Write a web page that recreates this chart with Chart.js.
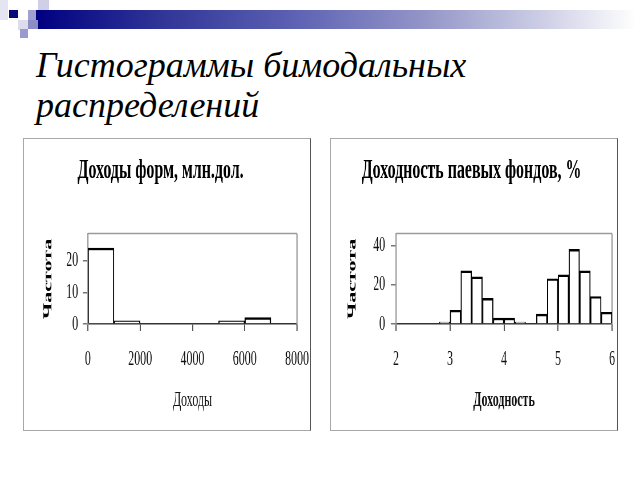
<!DOCTYPE html>
<html><head><meta charset="utf-8">
<script src="https://cdn.jsdelivr.net/npm/chart.js@4/dist/chart.umd.min.js"></script>
<style>
html,body{margin:0;padding:0;background:#fff}
body{width:640px;height:480px;position:relative;overflow:hidden}
.sq{position:absolute}
#band{position:absolute;left:36px;top:10px;width:600px;height:19px;
 background:linear-gradient(to right,#000080 0%,#2e3396 20%,#5a5fb2 42%,#9496c8 65%,#cfd0e6 85%,#ffffff 100%)}
#slideTitle{position:absolute;left:36px;top:45px;margin:0;font:italic 36px/40px "Liberation Serif",serif;color:#000;font-weight:normal}
.box{position:absolute;top:138px;width:286px;height:291px;border:1px solid #a8a8a8;border-right:1px solid #555;overflow:hidden;background:#fff}
.wrap{position:absolute;left:0;top:0;transform:scaleX(0.57);transform-origin:0 0}
</style></head>
<body>
<div class="sq" style="left:0;top:0;width:8px;height:20px;background:#e4e4f2"></div>
<div class="sq" style="left:38px;top:0;width:11px;height:10px;background:#cfcfe8"></div>
<div class="sq" style="left:9px;top:10px;width:9px;height:8px;background:#0a0a7a"></div>
<div class="sq" style="left:28px;top:10px;width:10px;height:10px;background:#a0a0d0"></div>
<div id="band"></div>
<div class="sq" style="left:18px;top:20px;width:10px;height:10px;background:#dcdcee"></div>
<div class="sq" style="left:28px;top:20px;width:10px;height:9px;background:#8c8cc6"></div>
<div class="sq" style="left:20px;top:29px;width:8px;height:9px;background:#9a9ace"></div>
<h1 id="slideTitle">Гистограммы бимодальных<br>распределений</h1>

<div class="box" style="left:23px"><div class="wrap"><canvas id="c1" width="502" height="291"></canvas></div></div>
<div class="box" style="left:330px"><div class="wrap"><canvas id="c2" width="502" height="291"></canvas></div></div>

<script>
// ---- data ----
const incomeEdges = [0, 1000, 2000, 3000, 4000, 5000, 6000, 7000, 8000];
const incomeFreq  = [24, 1, 0, 0, 0, 1, 2, 0];
const incomeXTicks = [0, 2000, 4000, 6000, 8000];
const incomeYTicks = [0, 10, 20];
const incomeTitle = 'Доходы форм, млн.дол.';
const incomeXTitle = 'Доходы';

const yieldEdges = [2.8, 3.0, 3.2, 3.4, 3.6, 3.8, 4.0, 4.2, 4.4, 4.6, 4.8, 5.0, 5.2, 5.4, 5.6, 5.8, 6.0];
const yieldFreq  = [1, 7, 27, 24, 13, 3, 3, 1, 0, 5, 23, 25, 38, 27, 14, 6];
const yieldXTicks = [2, 3, 4, 5, 6];
const yieldYTicks = [0, 20, 40];
const yieldTitle = 'Доходность паевых фондов, %';
const yieldXTitle = 'Доходность';

const yTitle = 'Частота';

const SERIF = '"Liberation Serif", "Times New Roman", serif';

const frame = {
  id: 'frame',
  beforeDatasetsDraw(chart) {
    const a = chart.chartArea, ctx = chart.ctx;
    ctx.save();
    ctx.strokeStyle = '#9a9a9a';
    ctx.lineWidth = 1.5;
    ctx.beginPath(); ctx.moveTo(a.left, a.top); ctx.lineTo(a.right, a.top); ctx.stroke();
    ctx.lineWidth = 2.2;
    ctx.beginPath(); ctx.moveTo(a.right, a.top); ctx.lineTo(a.right, a.bottom); ctx.stroke();
    ctx.restore();
  }
};

function makeHist(id, edges, freq, xTicks, yTicks, opts) {
  const points = freq.map((f, i) => ({ x: (edges[i] + edges[i + 1]) / 2, y: f }));
  new Chart(document.getElementById(id), {
    type: 'bar',
    data: { datasets: [{
      data: points,
      backgroundColor: '#ffffff',
      borderColor: '#000000',
      borderWidth: { top: 2.4, left: 2, right: 2, bottom: 0 },
      borderSkipped: 'start',
      barPercentage: 1,
      categoryPercentage: 1
    }]},
    options: {
      responsive: false,
      animation: false,
      devicePixelRatio: 1,
      layout: { padding: { left: 0, right: opts.padRight, top: 0, bottom: 0 } },
      plugins: {
        legend: { display: false },
        tooltip: { enabled: false },
        title: {
          display: true, text: opts.title, color: '#000',
          font: { family: SERIF, size: 28, weight: 'bold', lineHeight: 1.2 },
          padding: { top: 15, bottom: 46 }
        }
      },
      scales: {
        x: {
          type: 'linear', min: xTicks[0], max: xTicks[xTicks.length - 1],
          offset: false,
          afterBuildTicks: s => { s.ticks = xTicks.map(v => ({ value: v })); },
          afterFit: s => { s.height = 106; s.paddingLeft = 0; s.paddingRight = 0; },
          grid: { display: true, drawOnChartArea: false, drawTicks: true, tickLength: 7,
                  color: '#555', lineWidth: 2, offset: false },
          border: { display: true, color: '#333', width: 1.6 },
          ticks: { color: '#111', padding: 16, maxRotation: 0, autoSkip: false,
                   callback: v => String(v),
                   font: { family: SERIF, size: 21 } },
          title: { display: true, text: opts.xTitle, color: '#111',
                   font: { family: SERIF, size: 21, weight: opts.xTitleWeight, lineHeight: 1.2 },
                   padding: { top: 0, bottom: 17 } }
        },
        y: {
          min: 0, max: opts.yMax,
          afterBuildTicks: s => { s.ticks = yTicks.map(v => ({ value: v })); },
          afterFit: s => { s.width = opts.plotLeft; },
          grid: { display: true, drawOnChartArea: false, drawTicks: true, tickLength: 9,
                  color: '#777', lineWidth: 1.5 },
          border: { display: true, color: '#9a9a9a', width: 2.2 },
          ticks: { color: '#111', padding: opts.yTickPad, callback: v => String(v),
                   font: { family: SERIF, size: 21 } },
          title: { display: true, text: yTitle, color: '#000',
                   font: { family: SERIF, size: 22, weight: 'bold', lineHeight: 1.2 },
                   padding: { top: opts.yTitlePad, bottom: 0 } }
        }
      }
    },
    plugins: [frame]
  });
}

makeHist('c1', incomeEdges, incomeFreq, incomeXTicks, incomeYTicks, {
  title: incomeTitle, xTitle: incomeXTitle, xTitleWeight: 'normal',
  yMax: 28.6, plotLeft: 112, padRight: 23, yTickPad: 8, yTitlePad: 29
});
makeHist('c2', yieldEdges, yieldFreq, yieldXTicks, yieldYTicks, {
  title: yieldTitle, xTitle: yieldXTitle, xTitleWeight: 'bold',
  yMax: 46, plotLeft: 114, padRight: 9, yTickPad: 10, yTitlePad: 24
});
</script>
</body></html>
